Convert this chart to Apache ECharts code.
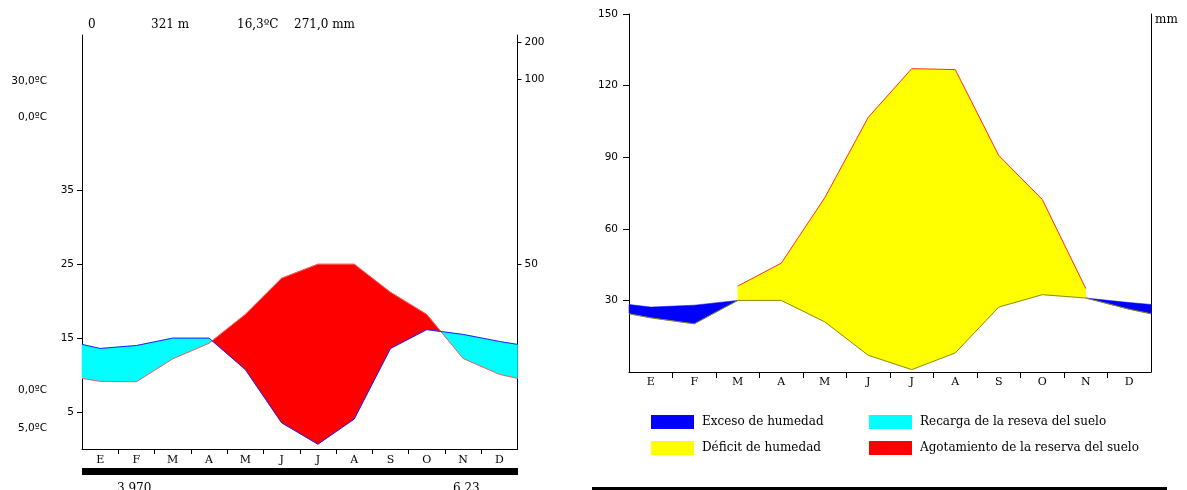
<!DOCTYPE html>
<html><head><meta charset="utf-8">
<script src="https://cdn.jsdelivr.net/npm/echarts@6/dist/echarts.min.js"></script>
<style>html,body{margin:0;padding:0;background:#fff}#c{width:1187px;height:490px}</style>
</head><body><div id="c"></div>
<script>
// ---------- DATA ----------
const months = ['E','F','M','A','M','J','J','A','S','O','N','D'];
// Climogram (left): mean monthly temperature, ºC
const temperature = [9.15, 9.1, 12.2, 14.3, 18.2, 23.1, 25.0, 25.0, 21.2, 18.2, 12.25, 10.1];
const temperatureEdge = 9.55;          // value at the plot's left/right edges
// Monthly precipitation, mm
const precipitation = [27.2, 28.0, 30.0, 30.0, 21.5, 7.1, 1.3, 8.1, 27.2, 32.3, 31.0, 29.1];
const precipitationEdge = 28.3;
// Water balance (right): potential and actual evapotranspiration, mm
const etp = [22.7, 20.2, 36.0, 45.6, 73.0, 106.7, 127.1, 126.7, 90.7, 72.3, 35.0, 26.3];
const etr = [22.7, 20.2, 30.0, 30.0, 21.0, 7.0, 1.0, 8.0, 27.2, 32.4, 31.0, 26.3];
const etpEdge = 24.4;
const etrEdge = 24.4;
// Tick labels
const tempTicks = [5, 15, 25, 35];
const mmTicks = [50, 100, 200];
const balanceTicks = [30, 60, 90, 120, 150];
// Texts
const header = ['0', '321 m', '16,3ºC', '271,0 mm'];
const extremes = ['30,0ºC', '0,0ºC', '0,0ºC', '5,0ºC'];
const bottomValues = ['3.970', '6.23'];
const legendLeft = ['Exceso de humedad', 'Déficit de humedad'];
const legendRight = ['Recarga de la reseva del suelo', 'Agotamiento de la reserva del suelo'];

// ---------- helpers ----------
const SERIF = '"DejaVu Serif", serif';
const SANS = '"DejaVu Sans", sans-serif';
const xs = [0, ...months.map((m, i) => i + 0.5), months.length];
const withEdges = (arr, e) => [e, ...arr, e];
const mmToC = m => m <= 100 ? m / 2 : 50 + (m - 100) / 20;   // Walter-Lieth scale

const T = withEdges(temperature, temperatureEdge);
const Ph = withEdges(precipitation, precipitationEdge).map(p => p / 2);
const P = withEdges(precipitation, precipitationEdge);
const ETP = withEdges(etp, etpEdge);
const ETR = withEdges(etr, etrEdge);

function lerp(a, b, t) { return [a[0] + (b[0] - a[0]) * t, a[1] + (b[1] - a[1]) * t]; }
// contiguous polygons between curves ya and yb where sign(ya-yb) == s
function regions(api, ya, yb, s, allow) {
  const polys = []; let up = [], lo = [];
  const flush = () => { if (up.length) polys.push(up.concat(lo.slice().reverse())); up = []; lo = []; };
  for (let i = 0; i < xs.length - 1; i++) {
    if (!allow(i)) { flush(); continue; }
    const d1 = (ya[i] - yb[i]) * s, d2 = (ya[i + 1] - yb[i + 1]) * s;
    const a1 = api.coord([xs[i], ya[i]]), a2 = api.coord([xs[i + 1], ya[i + 1]]);
    const b1 = api.coord([xs[i], yb[i]]), b2 = api.coord([xs[i + 1], yb[i + 1]]);
    if (d1 >= 0 && d2 >= 0 && (d1 > 0 || d2 > 0)) {
      if (!up.length) { up.push(a1); lo.push(b1); }
      up.push(a2); lo.push(b2);
    } else if (d1 > 0) {
      const c = lerp(a1, a2, d1 / (d1 - d2));
      if (!up.length) { up.push(a1); lo.push(b1); }
      up.push(c); flush();
    } else if (d2 > 0) {
      flush();
      const c = lerp(a1, a2, d1 / (d1 - d2));
      up.push(c, a2); lo.push(c, b2);
    } else flush();
  }
  flush();
  return polys;
}
function group(polys, color) {
  return { type: 'group', children: polys.map(p => ({ type: 'polygon', shape: { points: p }, style: { fill: color, stroke: color, lineWidth: 0.5 } })) };
}
const isDeficit = i => ETP[i] > ETR[i] && ETP[i + 1] > ETR[i + 1];
const one = [[0, 0]];

function monthAxis(gridIndex, tickLen, margin) {
  return {
    type: 'value', gridIndex, min: 0, max: months.length,
    axisLine: { show: true, onZero: false, lineStyle: { color: '#000', width: 1 } },
    axisTick: { show: true, length: tickLen, customValues: months.slice(1).map((m, i) => i + 1), lineStyle: { color: '#000' } },
    axisLabel: { customValues: months.map((m, i) => i + 0.5), formatter: v => months[Math.floor(v)], fontFamily: SERIF, fontSize: 11, color: '#000', margin },
    splitLine: { show: false }
  };
}
const legendText = { fontFamily: SERIF, fontSize: 12, color: '#000', lineHeight: 14, padding: [0, 0, 0, 3] };

const chart = echarts.init(document.getElementById('c'), null, { renderer: 'canvas' });
chart.setOption({
  animation: false,
  backgroundColor: '#fff',
  grid: [
    { left: 82, top: 35, width: 435.5, height: 414 },
    { left: 629, top: 14, width: 522, height: 358 }
  ],
  xAxis: [monthAxis(0, 5, 6), monthAxis(1, 6, 5)],
  yAxis: [
    { type: 'value', gridIndex: 0, min: 0, max: 56, position: 'left',
      axisLine: { show: true, lineStyle: { color: '#000' } },
      axisTick: { show: true, length: 5, customValues: tempTicks, lineStyle: { color: '#000' } },
      axisLabel: { customValues: tempTicks, fontFamily: SANS, fontSize: 10.5, color: '#000', margin: 8 },
      splitLine: { show: false } },
    { type: 'value', gridIndex: 0, min: 0, max: 56, position: 'right',
      axisLine: { show: true, lineStyle: { color: '#000' } },
      axisTick: { show: true, length: 4, customValues: mmTicks.map(mmToC), lineStyle: { color: '#000' } },
      axisLabel: { customValues: mmTicks.map(mmToC), fontFamily: SANS, fontSize: 10.5, color: '#000', margin: 7,
        formatter: v => String(mmTicks.find(m => Math.abs(mmToC(m) - v) < 1e-6)) },
      splitLine: { show: false } },
    { type: 'value', gridIndex: 1, min: 0, max: 150, position: 'left',
      axisLine: { show: true, lineStyle: { color: '#000' } },
      axisTick: { show: true, length: 6, customValues: balanceTicks, lineStyle: { color: '#000' } },
      axisLabel: { customValues: balanceTicks, fontFamily: SANS, fontSize: 10.5, color: '#000', margin: 11 },
      splitLine: { show: false } },
    { type: 'value', gridIndex: 1, min: 0, max: 150, position: 'right',
      axisLine: { show: true, lineStyle: { color: '#000' } },
      axisTick: { show: false }, axisLabel: { show: false }, splitLine: { show: false } }
  ],
  legend: [
    { data: legendLeft, orient: 'vertical', left: 651, top: 415, padding: 0, itemWidth: 43, itemHeight: 14, itemGap: 12,
      icon: 'rect', selectedMode: false, textStyle: legendText },
    { data: legendRight, orient: 'vertical', left: 869, top: 415, padding: 0, itemWidth: 43, itemHeight: 14, itemGap: 12,
      icon: 'rect', selectedMode: false, textStyle: legendText }
  ],
  series: [
    // Left: climogram fills
    { type: 'custom', name: legendRight[0], xAxisIndex: 0, yAxisIndex: 0, data: one, itemStyle: { color: '#00ffff' }, z: 1,
      renderItem: (p, api) => group(regions(api, Ph, T, 1, () => true), '#00ffff') },
    { type: 'custom', name: legendRight[1], xAxisIndex: 0, yAxisIndex: 0, data: one, itemStyle: { color: '#ff0000' }, z: 1,
      renderItem: (p, api) => group(regions(api, T, Ph, 1, () => true), '#ff0000') },
    { type: 'line', xAxisIndex: 0, yAxisIndex: 0, data: xs.map((x, i) => [x, T[i]]), symbol: 'none', z: 3,
      lineStyle: { color: '#ff5a5a', width: 1 } },
    { type: 'line', xAxisIndex: 0, yAxisIndex: 0, data: xs.map((x, i) => [x, Ph[i]]), symbol: 'none', z: 3,
      lineStyle: { color: '#2020ff', width: 1 } },
    // Right: water balance fills
    { type: 'custom', name: legendLeft[0], xAxisIndex: 1, yAxisIndex: 2, data: one, itemStyle: { color: '#0000ff' }, z: 1,
      renderItem: (p, api) => group(regions(api, P, ETR, 1, i => !isDeficit(i)), '#0000ff') },
    { type: 'custom', name: legendLeft[1], xAxisIndex: 1, yAxisIndex: 2, data: one, itemStyle: { color: '#ffff00' }, z: 1,
      renderItem: (p, api) => group(regions(api, ETP, ETR, 1, isDeficit), '#ffff00') },
    { type: 'line', xAxisIndex: 1, yAxisIndex: 2, data: xs.map((x, i) => [x, ETR[i]]), symbol: 'none', z: 3,
      lineStyle: { color: '#8c8c10', width: 1 } },
    { type: 'line', xAxisIndex: 1, yAxisIndex: 2,
      data: xs.map((x, i) => [x, ETP[i]]).filter((d, i) => ETP[i] > ETR[i]), symbol: 'none', z: 3,
      lineStyle: { color: '#ff3030', width: 1 } }
  ],
  graphic: [
    ...header.map((t, i) => ({ type: 'text', left: [88, 151, 237, 294][i], top: 19,
      style: { text: t, font: '12px ' + SERIF, fill: '#000' } })),
    ...extremes.map((t, i) => ({ type: 'text', x: 47, y: [81, 117, 390, 428][i],
      style: { text: t, font: '10.5px ' + SANS, fill: '#000', align: 'right', verticalAlign: 'middle' } })),
    { type: 'text', x: 1155, y: 20, style: { text: 'mm', font: '12px ' + SERIF, fill: '#000', verticalAlign: 'middle' } },
    { type: 'rect', shape: { x: 82, y: 468, width: 436, height: 7 }, style: { fill: '#000' } },
    ...bottomValues.map((t, i) => ({ type: 'text', x: [117, 453][i], y: 483,
      style: { text: t, font: '12px ' + SERIF, fill: '#000', verticalAlign: 'top' } })),
    { type: 'rect', shape: { x: 592, y: 487, width: 575, height: 3 }, style: { fill: '#000' } }
  ]
});
</script></body></html>
